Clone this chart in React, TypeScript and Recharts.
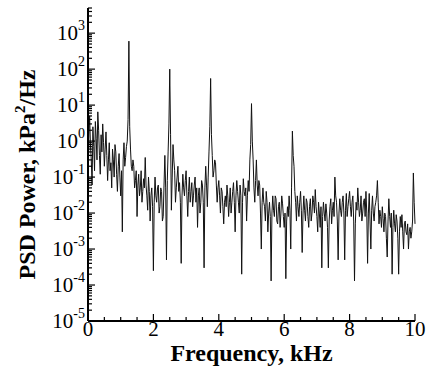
import React from "react";
import { LineChart, Line, XAxis, YAxis } from "recharts";

// PSD samples every 0.025 kHz, in 2 kHz bands
const psd0to2 = [
  0.03, 1.2, 5.0, 0.8, 0.3, 0.06, 2.5, 0.7, 0.15, 3.5,
  1.2, 0.3, 6.5, 2.0, 0.4, 0.12, 1.5, 0.5, 3.0, 0.9,
  0.2, 0.6, 1.8, 0.4, 0.08, 0.3, 0.9, 0.15, 0.25, 0.05,
  0.6, 0.3, 0.1, 0.8, 0.5, 0.12, 0.04, 0.2, 0.45, 0.1,
  0.03, 0.15, 0.003, 0.3, 0.9, 0.2, 0.35, 0.7, 1.0, 4,
  600, 2.5, 0.6, 0.2, 0.15, 0.3, 0.2, 0.05, 0.08, 0.15,
  0.008, 0.06, 0.12, 0.03, 0.05, 0.15, 0.02, 0.04, 0.09, 0.05,
  0.35, 0.06, 0.03, 0.012, 0.1, 0.04, 0.006, 0.03, 0.05, 0.015,
];
const psd2to4 = [
  0.00025, 0.02, 0.1, 0.03, 0.02, 0.05, 0.06, 0.01, 0.015, 0.05,
  0.04, 0.006, 0.008, 0.06, 0.4, 0.05, 0.0005, 0.08, 0.5, 3,
  100, 1.5, 0.012, 0.1, 0.8, 0.3, 0.15, 0.02, 0.05, 0.1,
  0.2, 0.04, 0.07, 0.02, 0.0004, 0.03, 0.12, 0.05, 0.03, 0.08,
  0.15, 0.03, 0.008, 0.04, 0.1, 0.02, 0.04, 0.07, 0.015, 0.03,
  0.06, 0.1, 0.02, 0.05, 0.004, 0.03, 0.05, 0.01, 0.02, 0.08,
  0.06, 0.02, 0.0003, 0.05, 0.2, 0.06, 0.015, 0.1, 0.5, 2.5,
  55, 1.5, 0.4, 0.1, 0.15, 0.3, 0.25, 0.06, 0.02, 0.05,
];
const psd4to6 = [
  0.08, 0.03, 0.01, 0.05, 0.04, 0.015, 0.005, 0.02, 0.03, 0.015,
  0.06, 0.03, 0.008, 0.02, 0.05, 0.01, 0.02, 0.04, 0.07, 0.02,
  0.003, 0.03, 0.08, 0.04, 0.02, 0.01, 0.06, 0.03, 0.0002, 0.02,
  0.09, 0.04, 0.03, 0.05, 0.006, 0.03, 0.08, 0.04, 0.3, 0.8,
  11, 1.0, 0.3, 0.05, 0.02, 0.08, 0.3, 0.06, 0.03, 0.08,
  0.06, 0.01, 0.001, 0.02, 0.05, 0.02, 0.015, 0.006, 0.04, 0.02,
  0.003, 0.01, 0.02, 0.008, 0.00013, 0.01, 0.03, 0.012, 0.008, 0.03,
  0.025, 0.006, 0.005, 0.015, 0.02, 0.004, 0.01, 0.03, 0.018, 0.008,
];
const psd6to8 = [
  0.004, 0.01, 0.00015, 0.006, 0.015, 0.008, 0.03, 0.012, 0.001, 0.05,
  1.9, 0.4, 0.2, 0.04, 0.02, 0.006, 0.03, 0.015, 0.008, 0.02,
  0.04, 0.012, 0.0008, 0.01, 0.03, 0.012, 0.006, 0.025, 0.02, 0.008,
  0.004, 0.015, 0.025, 0.006, 0.01, 0.03, 0.02, 0.01, 0.045, 0.015,
  0.008, 0.003, 0.02, 0.01, 0.004, 0.015, 0.0003, 0.008, 0.02, 0.01,
  0.006, 0.018, 0.01, 0.004, 0.0003, 0.006, 0.015, 0.025, 0.005, 0.012,
  0.02, 0.008, 0.1, 0.03, 0.02, 0.006, 0.0005, 0.01, 0.025, 0.012,
  0.008, 0.02, 0.03, 0.01, 0.0005, 0.012, 0.035, 0.008, 0.015, 0.025,
];
const psd8to10 = [
  0.04, 0.015, 0.008, 0.02, 0.03, 0.006, 0.00013, 0.005, 0.02, 0.012,
  0.05, 0.02, 0.008, 0.012, 0.03, 0.006, 0.01, 0.02, 0.025, 0.008,
  0.04, 0.01, 0.0004, 0.01, 0.035, 0.006, 0.001, 0.012, 0.03, 0.01,
  0.006, 0.015, 0.02, 0.03, 0.08, 0.02, 0.005, 0.012, 0.008, 0.004,
  0.015, 0.007, 0.003, 0.01, 0.008, 0.002, 0.0006, 0.006, 0.025, 0.008,
  0.004, 0.01, 0.0002, 0.004, 0.012, 0.005, 0.003, 0.009, 0.006, 0.002,
  0.0002, 0.003, 0.008, 0.004, 0.009, 0.003, 0.001, 0.005, 0.006, 0.003,
  0.0025, 0.005, 0.001, 0.003, 0.004, 0.002, 0.003, 0.006, 0.13, 0.02,
  0.005,
];

const FREQ_STEP = 0.025; // kHz
const xTicks = [0, 0.5, 1, 1.5, 2, 2.5, 3, 3.5, 4, 4.5, 5, 5.5, 6, 6.5, 7, 7.5, 8, 8.5, 9, 9.5, 10];
const xLabels = [0, 2, 4, 6, 8, 10];
const decades = [-5, -4, -3, -2, -1, 0, 1, 2, 3];
const yTop = 5000;

const psd = [...psd0to2, ...psd2to4, ...psd4to6, ...psd6to8, ...psd8to10];
const data = psd.map((p, i) => ({ f: +(i * FREQ_STEP).toFixed(3), p }));

const yTicks: number[] = [];
decades.forEach((d) => {
  for (let k = 1; k <= 9; k++) {
    const v = k * Math.pow(10, d);
    if (v <= yTop) yTicks.push(v);
  }
});

const FONT = "'Liberation Serif', 'Times New Roman', serif";

const YTick = (props: any) => {
  const { x, y, payload } = props;
  const ax = x + 3;
  const lg = Math.log10(payload.value);
  const major = Math.abs(lg - Math.round(lg)) < 1e-6;
  return (
    <g>
      <line x1={ax} x2={ax + (major ? 7 : 4)} y1={y} y2={y} stroke="#000" strokeWidth={1.2} />
      {major && (
        <text x={x} y={y + 7} textAnchor="end" fontFamily={FONT} fontSize={21} fill="#000">
          10<tspan dy={-10} fontSize={14}>{Math.round(lg)}</tspan>
        </text>
      )}
    </g>
  );
};

const XTick = (props: any) => {
  const { x, y, payload } = props;
  const v = payload.value;
  const major = xLabels.includes(v);
  return (
    <g>
      <line x1={x} x2={x} y1={y} y2={y - (major ? 7 : 4)} stroke="#000" strokeWidth={1.2} />
      {major && (
        <text x={x} y={y + 15} textAnchor="middle" fontFamily={FONT} fontSize={21} fill="#000">
          {v}
        </text>
      )}
    </g>
  );
};

const YTitle = (props: any) => {
  const { x, y, height } = props.viewBox;
  const cx = x + 35;
  const cy = y + height / 2 + 10;
  return (
    <text
      x={cx}
      y={cy}
      transform={`rotate(-90 ${cx} ${cy})`}
      textAnchor="middle"
      fontFamily={FONT}
      fontWeight="bold"
      fontSize={24}
      fill="#000"
    >
      PSD Power, kPa<tspan dy={-10} fontSize={15}>2</tspan>
      <tspan dy={10}>/Hz</tspan>
    </text>
  );
};

const XTitle = (props: any) => {
  const { x, y, width } = props.viewBox;
  return (
    <text
      x={x + width / 2}
      y={y + 40}
      textAnchor="middle"
      fontFamily={FONT}
      fontWeight="bold"
      fontSize={24}
      fill="#000"
    >
      Frequency, kHz
    </text>
  );
};

export default function App() {
  return (
    <div style={{ position: "absolute", left: 0, top: 0, background: "#fff" }}>
      <LineChart width={427} height={366} data={data} margin={{ top: 8, right: 12, left: 0, bottom: 0 }}>
        <XAxis
          dataKey="f"
          type="number"
          domain={[0, 10]}
          ticks={xTicks}
          interval={0}
          height={45}
          tickSize={0}
          tickMargin={0}
          tickLine={false}
          axisLine={{ stroke: "#000", strokeWidth: 2 }}
          tick={<XTick />}
          label={<XTitle />}
        />
        <YAxis
          scale="log"
          domain={[1e-5, yTop]}
          allowDataOverflow
          ticks={yTicks}
          interval={0}
          width={88}
          tickSize={0}
          tickMargin={3}
          tickLine={false}
          axisLine={{ stroke: "#000", strokeWidth: 2 }}
          tick={<YTick />}
          label={<YTitle />}
        />
        <Line
          type="linear"
          dataKey="p"
          stroke="#111"
          strokeWidth={1}
          dot={false}
          isAnimationActive={false}
        />
      </LineChart>
    </div>
  );
}
